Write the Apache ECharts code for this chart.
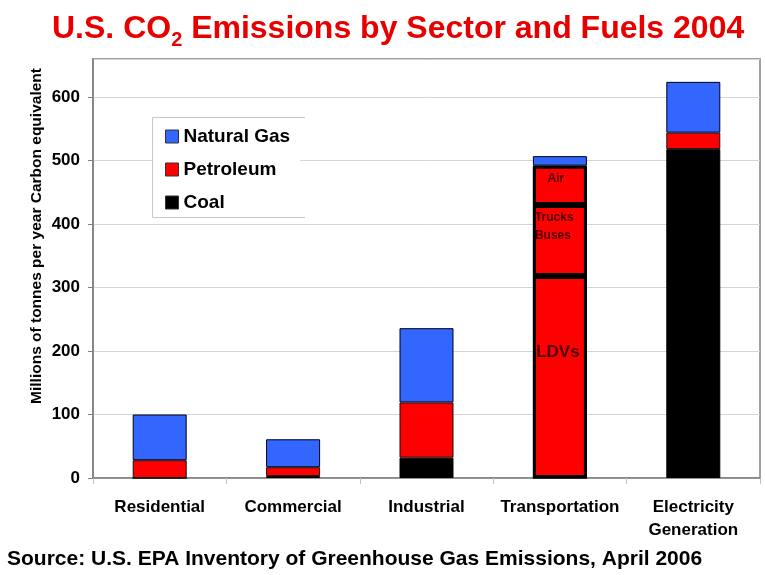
<!DOCTYPE html>
<html><head><meta charset="utf-8">
<script src="https://cdn.jsdelivr.net/npm/echarts@6/dist/echarts.min.js"></script>
<style>html,body{margin:0;padding:0;background:#fff}#c{width:765px;height:575px}</style>
</head><body><div id="c"></div>
<script>
var categories = ['Residential', 'Commercial', 'Industrial', 'Transportation', 'Electricity\nGeneration'];
var coal = [0, 3, 32, 0, 518];
var petroleum = [28, 14, 87, 492, 26];
var naturalGas = [72, 44, 117, 15, 80];
// Transportation petroleum split (LDVs, Trucks/Buses, Air)
var ldvs = ['-', '-', '-', 318, '-'];
var trucksBuses = ['-', '-', '-', 112, '-'];
var air = ['-', '-', '-', 62, '-'];
var yTicks = [0, 100, 200, 300, 400, 500, 600];

var F = 'Arial, "Liberation Sans", sans-serif';
var chart = echarts.init(document.getElementById('c'));
var base = {type: 'bar', stack: 'fuel', barWidth: 54, barGap: '-100%',
  itemStyle: {borderColor: '#000', borderWidth: 1}};
function seg(name, data, label) {
  return {type: 'bar', name: name, stack: 'seg', barWidth: 54, barGap: '-100%', z: 5, data: data,
    itemStyle: {color: 'rgba(0,0,0,0)', borderColor: '#000', borderWidth: 3},
    label: label, silent: true};
}
chart.setOption({
  animation: false,
  title: [{
    text: '{a|U.S. CO}{s|2}{a| Emissions by Sector and Fuels 2004}',
    left: 52, top: 13, padding: 0,
    textStyle: {rich: {
      a: {fontFamily: F, fontWeight: 'bold', fontSize: 32, color: '#e80000', verticalAlign: 'top', lineHeight: 38},
      s: {fontFamily: F, fontWeight: 'bold', fontSize: 20, color: '#e80000', verticalAlign: 'top', lineHeight: 20, padding: [17, 0, 0, 0]}
    }}
  }, {
    text: 'Source: U.S. EPA Inventory of Greenhouse Gas Emissions, April 2006',
    left: 2, top: 544,
    textStyle: {fontFamily: F, fontWeight: 'bold', fontSize: 21, color: '#000'}
  }],
  legend: {
    data: ['Natural Gas', 'Petroleum', 'Coal'],
    orient: 'vertical', left: 152, top: 118, width: 153,
    padding: [9, 10, 9, 13], itemGap: 14, itemWidth: 13, itemHeight: 13,
    backgroundColor: '#fff', icon: 'rect',
    itemStyle: {borderColor: '#333', borderWidth: 1},
    textStyle: {fontFamily: F, fontWeight: 'bold', fontSize: 19, color: '#000', width: 120}
  },
  graphic: [{
    type: 'polyline', z: 100,
    shape: {points: [[305, 117.5], [152.5, 117.5], [152.5, 217.5], [305, 217.5]]},
    style: {stroke: '#c8c8c8', lineWidth: 1, fill: null}
  }, {
    type: 'text', x: 37, y: 236, rotation: Math.PI / 2,
    style: {text: 'Millions of tonnes per year Carbon equivalent', fontFamily: F, fontWeight: 'bold',
      fontSize: 15.5, fill: '#000', align: 'center', verticalAlign: 'middle'}
  }],
  grid: {left: 93, right: 5, top: 59, bottom: 97, show: true, borderColor: '#a0a0a0', borderWidth: 2, backgroundColor: 'transparent'},
  xAxis: {
    type: 'category', data: categories,
    axisLine: {lineStyle: {color: '#808080', width: 1.5}},
    axisTick: {show: true, length: 6, lineStyle: {color: '#c0c0c0'}},
    axisLabel: {fontFamily: F, fontWeight: 'bold', fontSize: 17, color: '#000', margin: 18, lineHeight: 23, interval: 0}
  },
  yAxis: {
    type: 'value', min: 0, max: 660, interval: 100,
    axisLine: {show: true, lineStyle: {color: '#808080', width: 1.5}},
    axisTick: {show: true, length: 5, lineStyle: {color: '#808080'}},
    axisLabel: {fontFamily: F, fontWeight: 'bold', fontSize: 17, color: '#000', margin: 13,
      showMaxLabel: false,
      formatter: function (v) { return yTicks.indexOf(v) >= 0 ? String(v) : ''; }},
    splitLine: {lineStyle: {color: '#d4d4d4'}}
  },
  series: [
    Object.assign({}, base, {name: 'Coal', data: coal, itemStyle: {color: '#000', borderColor: '#000', borderWidth: 1}}),
    Object.assign({}, base, {name: 'Petroleum', data: petroleum, itemStyle: {color: '#ff0000', borderColor: '#111', borderWidth: 1}}),
    Object.assign({}, base, {name: 'Natural Gas', data: naturalGas, itemStyle: {color: '#3366ff', borderColor: '#001', borderWidth: 1}}),
    seg('LDVs', ldvs, {show: true, position: 'inside', offset: [-2, -25], formatter: 'LDVs',
      fontFamily: F, fontWeight: 'bold', fontSize: 17, color: '#4a0000'}),
    seg('Trucks Buses', trucksBuses, {show: true, position: 'insideTopLeft', offset: [-3, -1], formatter: 'Trucks\nBuses',
      fontFamily: F, fontWeight: 'bold', fontSize: 12, lineHeight: 18, color: '#4a0000'}),
    seg('Air', air, {show: true, position: 'insideTop', offset: [-4, 2], formatter: 'Air',
      fontFamily: F, fontWeight: 'bold', fontSize: 12, color: '#4a0000'})
  ]
});
</script></body></html>
